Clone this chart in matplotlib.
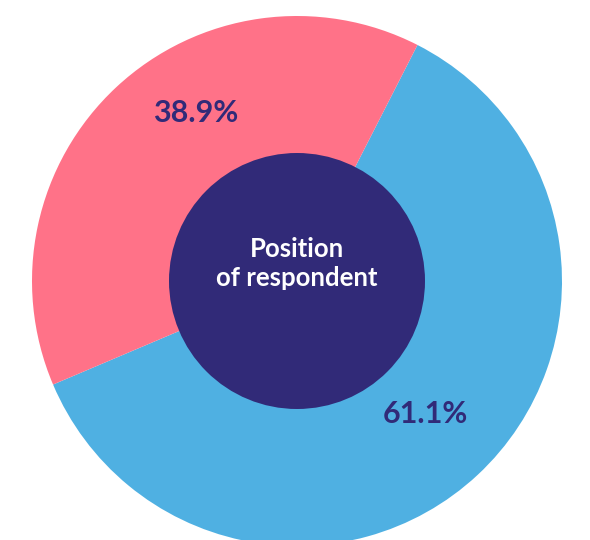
import matplotlib
matplotlib.use("Agg")
import matplotlib.pyplot as plt
from matplotlib.patches import Circle
import numpy as np

# данные диаграммы
labels = ["Blue", "Red"]
shares = [61.1, 38.9]
colors = ["#4FB0E2", "#FF7288"]
center_title = "Position\nof respondent"

NAVY = "#312A78"
W, H = 590, 540
CX, CY, R = 297, 281, 265        # центр и радиус в пикселях
R_IN = 128 / R

fig = plt.figure(figsize=(W / 100, H / 100), dpi=100)
ax = fig.add_axes([0, 0, 1, 1])

wedges, _ = ax.pie(
    shares, colors=colors, startangle=203, counterclock=True,
    radius=1.0, wedgeprops=dict(width=1.0 - R_IN + 0.01, linewidth=0),
)
ax.add_patch(Circle((0, 0), R_IN, color=NAVY, zorder=3, linewidth=0))

# pie() сам ставит пределы — переопределяем после
ax.set_xlim(-CX / R, (W - CX) / R)
ax.set_ylim(-(H - CY) / R, CY / R)
ax.set_aspect("auto")
ax.axis("off")

# подписи процентов — смещение по углу относительно середины сектора
shift = {0: 1.0, 1: -12.0}
dist = {0: 0.70, 1: 0.74}
for i, w in enumerate(wedges):
    ang = np.deg2rad((w.theta1 + w.theta2) / 2 + shift[i])
    ax.text(dist[i] * np.cos(ang), dist[i] * np.sin(ang), f"{shares[i]:.1f}%",
            ha="center", va="center", color=NAVY, fontsize=22,
            fontweight="bold", family="Lato", zorder=4)

ax.text(0, 0.065, center_title, ha="center", va="center", color="white",
        fontsize=18.5, fontweight="bold", family="Lato", linespacing=1.25,
        zorder=4)

fig.savefig("out.png", dpi=100)
